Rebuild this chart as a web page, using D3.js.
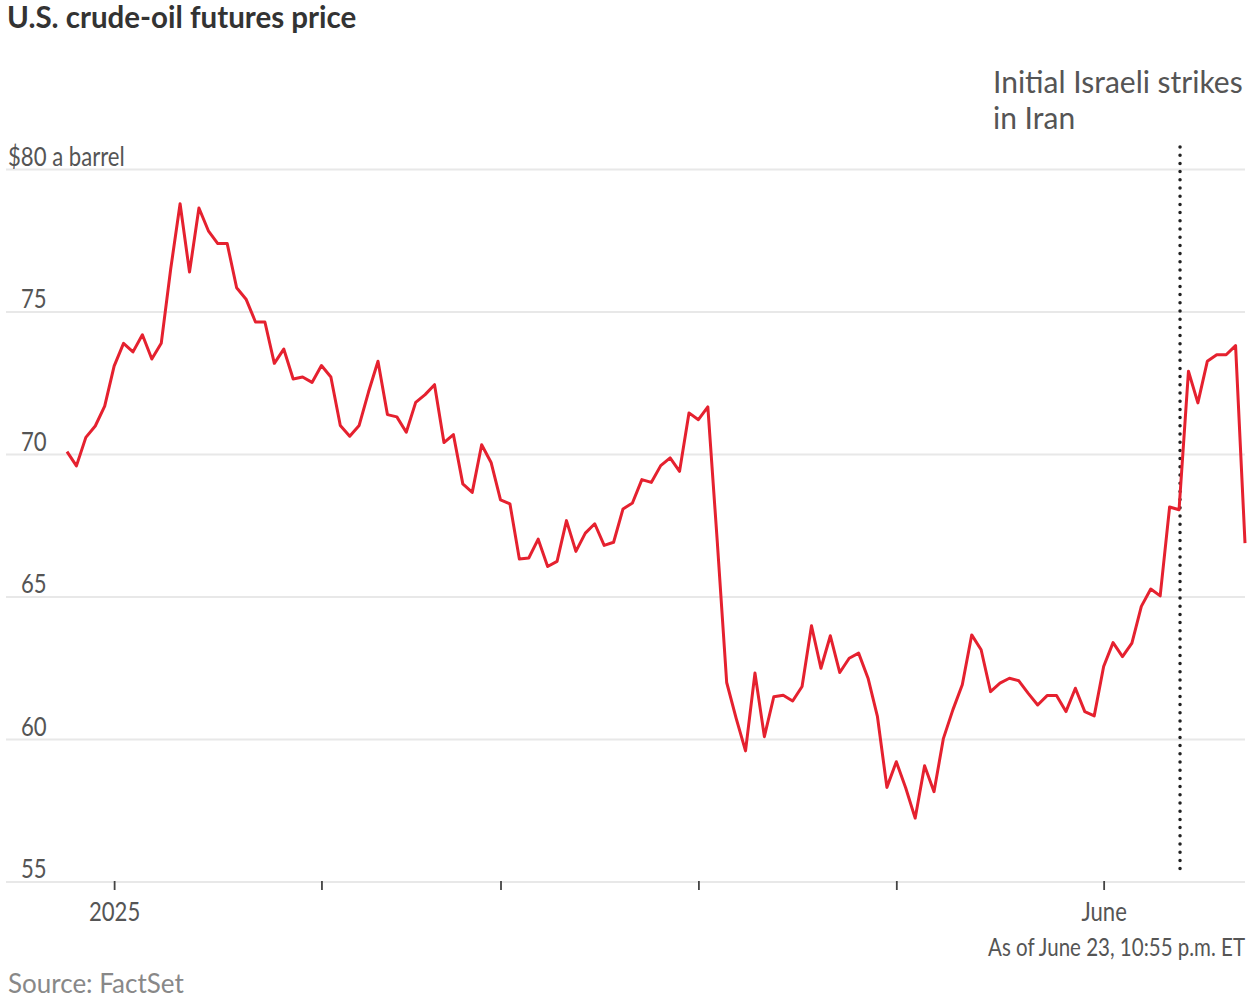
<!DOCTYPE html>
<html>
<head>
<meta charset="utf-8">
<script src="https://cdn.jsdelivr.net/npm/d3@7"></script>
<style>
    body { margin: 0; background: #fff; }
    text { font-family: Lato, "Open Sans", sans-serif; }
</style>
</head>
<body>
<div id="chart"></div>
<script>
// trading days shown on the chart (weekdays, minus days with no quote)
const firstDay = "2024-12-24";
const lastDay = "2025-06-23";
const closedDays = ["2024-12-25", "2025-01-01", "2025-02-17", "2025-04-18"];

// $ a barrel, one value per trading day
const pricesDec = [70.1, 69.6, 70.6, 71.0, 71.7];
const pricesJan = [73.1, 73.9, 73.6, 74.2, 73.35, 73.9, 76.5, 78.8, 76.4, 78.65, 77.85, 77.4, 77.4, 75.85, 75.45, 74.65, 74.65, 73.2, 73.7, 72.65, 72.72, 72.53];
const pricesFeb = [73.12, 72.72, 71.02, 70.64, 71.02, 72.2, 73.27, 71.4, 71.32, 70.78, 71.83, 72.1, 72.45, 70.42, 70.7, 68.97, 68.67, 70.34, 69.72];
const pricesMar = [68.41, 68.27, 66.33, 66.37, 67.03, 66.07, 66.25, 67.68, 66.6, 67.24, 67.57, 66.81, 66.92, 68.09, 68.3, 69.12, 69.02, 69.61, 69.88, 69.41, 71.46];
const pricesApr = [71.22, 71.67, 66.95, 62.0, 60.75, 59.6, 62.33, 60.1, 61.5, 61.55, 61.35, 61.86, 63.99, 62.5, 63.64, 62.35, 62.85, 63.03, 62.15, 60.8, 58.32];
const pricesMay = [59.22, 58.3, 57.24, 59.08, 58.17, 60.04, 61.04, 61.92, 63.67, 63.15, 61.68, 61.98, 62.15, 62.06, 61.62, 61.21, 61.54, 61.54, 60.98, 61.8, 60.98, 60.83];
const pricesJun = [62.56, 63.4, 62.91, 63.38, 64.67, 65.28, 65.04, 68.16, 68.06, 72.92, 71.81, 73.27, 73.5, 73.5, 73.82, 66.89];

const yTicks = [55, 60, 65, 70, 75, 80];
const monthStarts = ["2025-01-02", "2025-02-03", "2025-03-03", "2025-04-01", "2025-05-01", "2025-06-02"];
const monthLabels = ["2025", "", "", "", "", "June"];
const eventDay = "2025-06-12";

const width = 1250;
const height = 1000;
const squeeze = "scale(0.82,1)"; // narrow look for the chart labels

const parseDay = d3.utcParse("%Y-%m-%d");
const formatDay = d3.utcFormat("%Y-%m-%d");

let tradingDays = d3.utcDay.range(parseDay(firstDay), d3.utcDay.offset(parseDay(lastDay), 1))
    .filter(d => d.getUTCDay() !== 0 && d.getUTCDay() !== 6)
    .map(formatDay)
    .filter(d => !closedDays.includes(d));

let prices = [].concat(pricesDec, pricesJan, pricesFeb, pricesMar, pricesApr, pricesMay, pricesJun);
let data = d3.zip(tradingDays, prices);

let x = d3.scalePoint()
    .domain(tradingDays)
    .range([67, 1245]);

let y = d3.scaleLinear()
    .domain([55, 80])
    .range([882, 169.5]);

const svg = d3.select("#chart")
    .append("svg")
    .attr("width", width)
    .attr("height", height);

svg.append("text")
    .attr("x", 7)
    .attr("y", 28)
    .style("font-size", "29.5px")
    .style("font-weight", 700)
    .style("fill", "#333")
    .text("U.S. crude-oil futures price");

// gridlines with labels sitting on top of them
svg.selectAll(".grid")
    .data(yTicks)
    .enter().append("line")
    .attr("class", "grid")
    .attr("x1", 6)
    .attr("x2", 1245)
    .attr("y1", d => y(d))
    .attr("y2", d => y(d))
    .style("stroke", "#e8e8e8")
    .style("stroke-width", 2);

svg.selectAll(".ylabel")
    .data(yTicks)
    .enter().append("text")
    .attr("class", "ylabel")
    .attr("transform", d => "translate(" + (d === 80 ? 8 : 21) + "," + (y(d) - 4) + ")" + squeeze)
    .style("font-size", "27px")
    .style("fill", "#555")
    .text(d => d === 80 ? "$80 a barrel" : d);

let xAxis = d3.axisBottom(x)
    .tickValues(monthStarts)
    .tickFormat((d, i) => monthLabels[i])
    .tickSize(8)
    .tickPadding(12);

let gx = svg.append("g")
    .attr("transform", "translate(0," + y(55) + ")")
    .call(xAxis);

gx.select(".domain").remove();
gx.selectAll(".tick line")
    .attr("y1", -1)
    .style("stroke", "#444")
    .style("stroke-width", 1.8);
gx.selectAll(".tick text")
    .attr("transform", squeeze)
    .style("font-family", "Lato, sans-serif")
    .style("font-size", "27px")
    .style("fill", "#555");

// event marker
svg.append("line")
    .attr("x1", x(eventDay) + 1)
    .attr("x2", x(eventDay) + 1)
    .attr("y1", 147)
    .attr("y2", 875)
    .style("stroke", "#222")
    .style("stroke-width", 3.5)
    .style("stroke-linecap", "round")
    .style("stroke-dasharray", "0,8.2");

svg.append("text")
    .attr("x", 993)
    .attr("y", 93)
    .style("font-size", "30px")
    .style("fill", "#555")
    .selectAll("tspan")
    .data(["Initial Israeli strikes", "in Iran"])
    .enter().append("tspan")
    .attr("x", 993)
    .attr("dy", (d, i) => i === 0 ? 0 : 36)
    .text(d => d);

let line = d3.line()
    .x(d => x(d[0]))
    .y(d => y(d[1]));

svg.append("path")
    .datum(data)
    .attr("d", line)
    .style("fill", "none")
    .style("stroke", "#e5212f")
    .style("stroke-width", 3)
    .style("stroke-linejoin", "round");

svg.append("text")
    .attr("transform", "translate(1245,956)" + squeeze)
    .attr("text-anchor", "end")
    .style("font-size", "25px")
    .style("fill", "#555")
    .text("As of June 23, 10:55 p.m. ET");

svg.append("text")
    .attr("x", 8)
    .attr("y", 993)
    .style("font-size", "26px")
    .style("fill", "#888")
    .text("Source: FactSet");
</script>
</body>
</html>
